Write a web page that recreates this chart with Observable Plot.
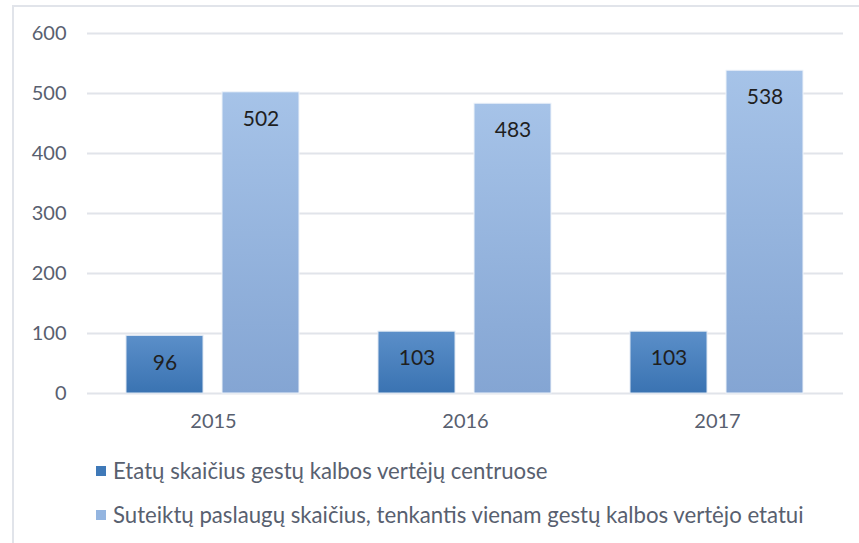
<!DOCTYPE html>
<html>
<head>
<meta charset="utf-8">
<script src="https://cdn.jsdelivr.net/npm/d3@7"></script>
<script src="https://cdn.jsdelivr.net/npm/@observablehq/plot@0.6"></script>
<style>
  html, body { margin: 0; padding: 0; background: #fff; }
  #wrap { position: relative; width: 859px; height: 543px; overflow: hidden; font-family: Lato, "Open Sans", sans-serif; }
  #frame { position: absolute; left: 12px; top: 5px; width: 860px; height: 560px; border-left: 2px solid #e1e4ea; border-top: 2px solid #e1e4ea; box-sizing: border-box; }
  #chart { position: absolute; left: 0; top: 0; }
  #legend { position: absolute; left: 96px; top: 457px; font-size: 22.2px; color: #58606f; }
  .item { height: 44px; line-height: 28px; display: flex; align-items: flex-start; }
  .sw { width: 10px; height: 10px; margin-top: 9px; margin-right: 7px; flex: none; }
</style>
</head>
<body>
<div id="wrap">
  <div id="frame"></div>
  <div id="chart"></div>
  <div id="legend"></div>
</div>
<script>
const years = ["2015", "2016", "2017"];
const seriesNames = [
  "Etatų skaičius gestų kalbos vertėjų centruose",
  "Suteiktų paslaugų skaičius, tenkantis vienam gestų kalbos vertėjo etatui"
];
const staffValues = [96, 103, 103];
const servicesValues = [502, 483, 538];
const yTicks = [0, 100, 200, 300, 400, 500, 600];
const seriesColors = [
  { id: "gDark", top: "#5b8fc9", bottom: "#3a73b2", swatch: "#3f79b8" },
  { id: "gLight", top: "#a6c3e8", bottom: "#84a5d3", swatch: "#94b5e0" }
];

const data = [];
years.forEach((yr, i) => {
  data.push({ year: yr, series: seriesNames[0], value: staffValues[i] });
  data.push({ year: yr, series: seriesNames[1], value: servicesValues[i] });
});

const defs = () => {
  const d = d3.create("svg:defs");
  for (const c of seriesColors) {
    const g = d.append("linearGradient").attr("id", c.id).attr("x1", 0).attr("y1", 0).attr("x2", 0).attr("y2", 1);
    g.append("stop").attr("offset", "0%").attr("stop-color", c.top);
    g.append("stop").attr("offset", "100%").attr("stop-color", c.bottom);
  }
  return d.node();
};

const chart = Plot.plot({
  width: 859,
  height: 440,
  marginLeft: 86,
  marginRight: 16,
  marginTop: 33,
  marginBottom: 47,
  style: { fontFamily: "Lato, 'Open Sans', sans-serif", fontSize: "20px", color: "#58606f", background: "transparent" },
  fx: { domain: years, padding: 0, label: null, tickSize: 0, tickPadding: 20 },
  x: { domain: seriesNames, paddingInner: 0.196, paddingOuter: 0.397, axis: null },
  y: { domain: [0, 600], ticks: yTicks, label: null, tickSize: 0, tickPadding: 21 },
  marks: [
    defs,
    Plot.ruleY(yTicks, { stroke: "#e1e4ea", strokeWidth: 2 }),
    Plot.barY(data.filter(d => d.series === seriesNames[0]), {
      fx: "year", x: "series", y: "value", fill: "url(#gDark)", stroke: "#dfe8f3", strokeWidth: 1
    }),
    Plot.barY(data.filter(d => d.series === seriesNames[1]), {
      fx: "year", x: "series", y: "value", fill: "url(#gLight)", stroke: "#eef3fa", strokeWidth: 1
    }),
    Plot.text(data, {
      fx: "year", x: "series", y: "value", text: d => String(d.value),
      dy: 27, fill: "#1f1f1f", fontSize: 21
    })
  ]
});
document.getElementById("chart").appendChild(chart);

const legend = document.getElementById("legend");
seriesNames.forEach((name, i) => {
  const item = document.createElement("div");
  item.className = "item";
  const sw = document.createElement("span");
  sw.className = "sw";
  sw.style.background = seriesColors[i].swatch;
  const t = document.createElement("span");
  t.textContent = name;
  item.appendChild(sw);
  item.appendChild(t);
  legend.appendChild(item);
});
</script>
</body>
</html>
